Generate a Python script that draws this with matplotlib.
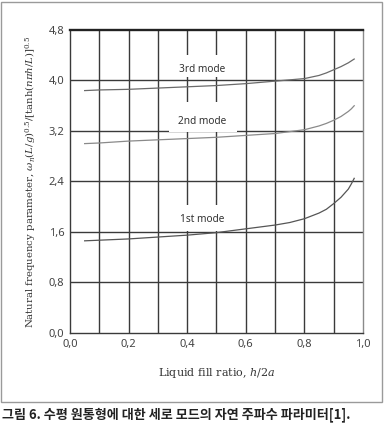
import matplotlib
matplotlib.use("Agg")
import matplotlib.pyplot as plt
from matplotlib.patches import Rectangle

plt.rcParams["mathtext.fontset"] = "dejavuserif"

# values
fill_ratio = [0.05, 0.1, 0.2, 0.3, 0.4, 0.5, 0.6, 0.7, 0.75, 0.8, 0.85, 0.875,
              0.9, 0.925, 0.95, 0.96, 0.97]
mode1 = [1.46, 1.47, 1.49, 1.52, 1.55, 1.59, 1.65, 1.71, 1.75, 1.81, 1.90, 1.96,
         2.05, 2.15, 2.28, 2.36, 2.45]
mode2 = [3.00, 3.01, 3.04, 3.06, 3.08, 3.10, 3.13, 3.16, 3.19, 3.22, 3.28, 3.32,
         3.37, 3.43, 3.51, 3.55, 3.60]
mode3 = [3.84, 3.85, 3.86, 3.88, 3.90, 3.92, 3.95, 3.99, 4.01, 4.03, 4.08, 4.12,
         4.17, 4.22, 4.28, 4.31, 4.34]

xticks = [0.0, 0.2, 0.4, 0.6, 0.8, 1.0]
yticks = [0.0, 0.8, 1.6, 2.4, 3.2, 4.0, 4.8]

# label positions / white boxes behind the labels (data coords)
labels = [("3rd mode", 0.45, 4.18, (0.355, 4.06, 0.21, 0.34)),
          ("2nd mode", 0.45, 3.35, (0.338, 3.18, 0.232, 0.48)),
          ("1st mode", 0.45, 1.80, (0.355, 1.62, 0.20, 0.41))]

GRID = "#3a3a3a"
TXT = "#333333"

fig = plt.figure(figsize=(3.84, 4.29), dpi=100)
ax = fig.add_axes([0.1823, 0.2238, 0.763, 0.7063])

# frame around the figure panel
fig.patches.append(Rectangle((1 / 384, 27 / 429), 381 / 384, 400 / 429,
                             transform=fig.transFigure, fill=False,
                             edgecolor="#9a9a9a", linewidth=1.0))

ax.set_xlim(0, 1.0)
ax.set_ylim(0, 4.8)
for xv in [i / 10 for i in range(1, 10)]:
    ax.axvline(xv, color=GRID, linewidth=1.0, zorder=1)
for yv in yticks[1:-1]:
    ax.axhline(yv, color=GRID, linewidth=1.0, zorder=1)

for txt, tx, ty, (bx, by, bw, bh) in labels:
    ax.add_patch(Rectangle((bx, by), bw, bh, facecolor="white",
                           edgecolor="none", zorder=2))
    ax.text(tx, ty, txt, ha="center", va="center", fontsize=7.3,
            color=TXT, family="Noto Sans", zorder=4)

ax.plot(fill_ratio, mode1, color="#555555", linewidth=0.9, zorder=3)
ax.plot(fill_ratio, mode2, color="#8a8a8a", linewidth=0.9, zorder=3)
ax.plot(fill_ratio, mode3, color="#6a6a6a", linewidth=0.9, zorder=3)

ax.set_xticks(xticks)
ax.set_xticklabels([f"{v:.1f}".replace(".", ",") for v in xticks])
ax.set_yticks(yticks)
ax.set_yticklabels([f"{v:.1f}".replace(".", ",") for v in yticks])
ax.tick_params(length=0, labelsize=8, colors="#444444", pad=4)
for lab in ax.get_xticklabels() + ax.get_yticklabels():
    lab.set_family("Noto Sans")

for side in ["left", "bottom"]:
    ax.spines[side].set_color(GRID)
    ax.spines[side].set_linewidth(1.0)
ax.spines["top"].set_color("#222222")
ax.spines["top"].set_linewidth(1.7)
ax.spines["right"].set_color("#8a8a8a")
ax.spines["right"].set_linewidth(1.0)

ax.set_xlabel("Liquid fill ratio, $h/2a$", fontsize=8, family="DejaVu Serif",
              color=TXT, labelpad=12)
ax.set_ylabel(r"Natural frequency parameter, $\omega_n(L/g)^{0.5}/[\tanh(n\pi h/L)]^{0.5}$",
              fontsize=7.3, family="DejaVu Serif", color=TXT, labelpad=8)

fig.text(2 / 384, 1 - 415 / 429, "그림 6. 수평 원통형에 대한 세로 모드의 자연 주파수 파라미터[1].",
         fontsize=9.4, fontweight="bold", family=["Noto Sans CJK KR", "DejaVu Sans"],
         color="#222222", ha="left", va="center")

fig.savefig("out.png", dpi=100)
